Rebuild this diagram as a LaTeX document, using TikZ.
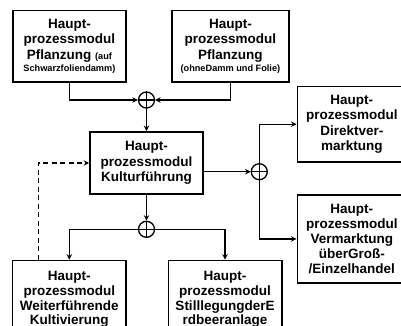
\documentclass[tikz,border=0pt]{standalone}
\usepackage{fontspec}
\setmainfont{Liberation Sans}
\usetikzlibrary{arrows.meta}
\begin{document}
\begin{tikzpicture}[x=1pt,y=-1pt,
  box/.style={draw, line width=1.6pt, inner sep=0pt, align=center,
    font=\fontsize{13.5}{15.5}\selectfont\bfseries},
  junc/.style={circle, draw, line width=1.3pt, minimum size=16pt, inner sep=0pt},
  bar/.style={line width=1.3pt},
  conn/.style={line width=1.3pt, -{Stealth[length=5.5pt,width=5.5pt]}},
  fb/.style={conn, dash pattern=on 5pt off 3.5pt}]
\useasboundingbox (0,0) rectangle (401,326);
\clip (0,0) rectangle (401,326);
\fill[white] (0,0) rectangle (401,326);
% boxes
\node[box, minimum width=113pt, minimum height=71.5pt] (b1) at (69.4,46.4)
  {Haupt-\\prozessmodul\\Pflanzung {\fontsize{9.2}{11}\selectfont(auf}\\[-3pt]{\fontsize{9.2}{11}\selectfont Schwarzfoliendamm)}};
\node[box, minimum width=117.3pt, minimum height=71.5pt] (b2) at (230.4,46.4)
  {Haupt-\\prozessmodul\\Pflanzung\\[-3pt]{\fontsize{9.2}{11}\selectfont(ohneDamm und Folie)}};
\node[box, minimum width=113pt, minimum height=62.3pt] (c) at (146.5,163)
  {Haupt-\\prozessmodul\\Kulturführung};
\node[box, minimum width=109pt, minimum height=75pt] (d) at (351.8,124.2)
  {Haupt-\\prozessmodul\\Direktver-\\marktung};
\node[box, minimum width=109pt, minimum height=87.7pt, font=\fontsize{13.5}{15}\selectfont\bfseries] (v) at (351.8,238.9)
  {Haupt-\\prozessmodul\\Vermarktung\\überGroß-\\/Einzelhandel};
\node[box, minimum width=113.3pt, minimum height=78.4pt, font=\fontsize{13.5}{14.7}\selectfont\bfseries] (bl) at (69.3,299.7)
  {Haupt-\\prozessmodul\\Weiterführende\\Kultivierung};
\node[box, minimum width=113.4pt, minimum height=78.4pt, font=\fontsize{13.5}{14.7}\selectfont\bfseries] (br) at (225,299.7)
  {Haupt-\\prozessmodul\\StilllegungderE\\rdbeeranlage};
% junctions
\node[junc] (j1) at (146.5,100) {};
\node[junc] (j2) at (259.3,171.7) {};
\node[junc] (j3) at (146.5,229.3) {};
\foreach \j in {j1,j2,j3}{
  \draw[bar] (\j.north) -- (\j.south);
  \draw[bar] (\j.west) -- (\j.east);
}
% connectors
\draw[conn] (b1.south) |- (j1.west);
\draw[conn] (b2.south) |- (j1.east);
\draw[conn] (j1.south) -- (c.north);
\draw[conn] (c.east |- j2.west) -- (j2.west);
\draw[conn] (j2.north) |- (d.west);
\draw[conn] (j2.south) |- (v.west);
\draw[conn] (c.south) -- (j3.north);
\draw[conn] (j3.west) -| (bl.north);
\draw[conn] (j3.east) -| (br.north);
\draw[fb] ([xshift=26.3pt]bl.north west) |- (c.west);
\end{tikzpicture}
\end{document}
